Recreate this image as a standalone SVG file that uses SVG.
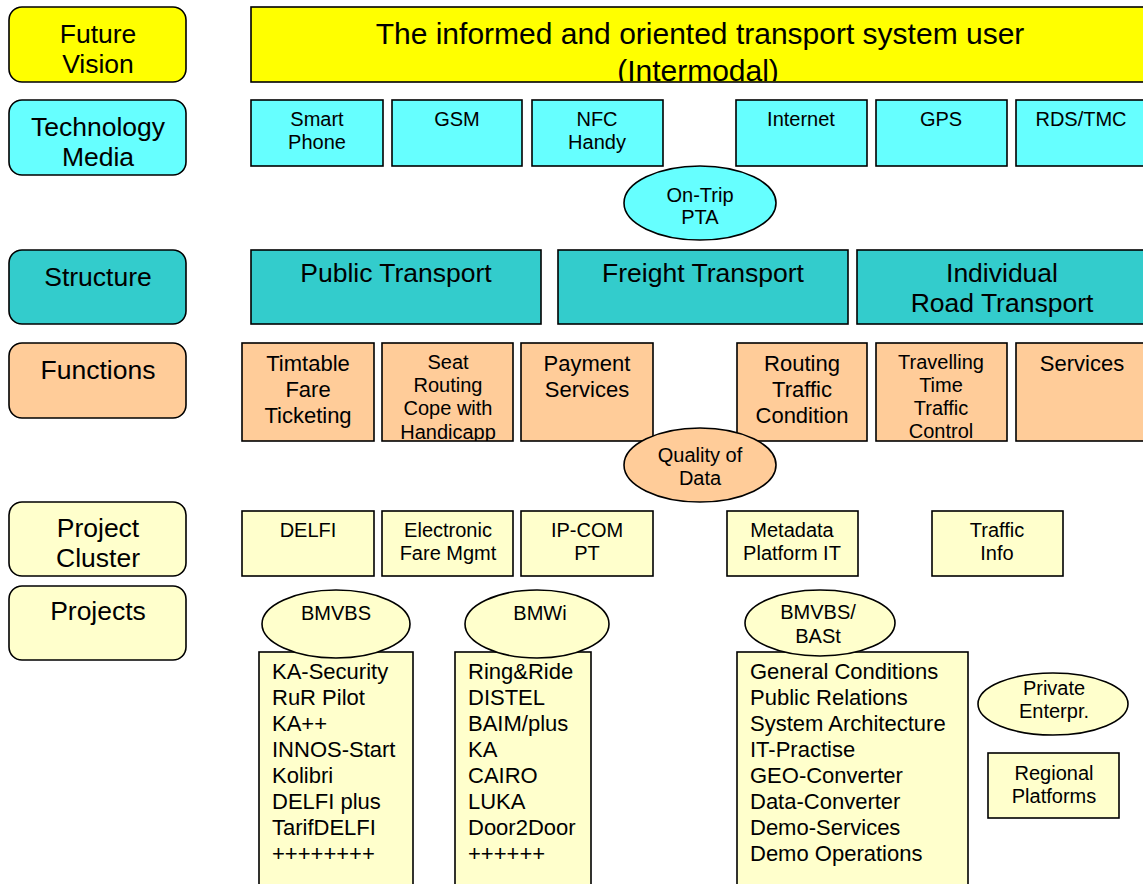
<svg xmlns="http://www.w3.org/2000/svg" width="1143" height="884" viewBox="0 0 1143 884">
<style>
text{font-family:"Liberation Sans",Arial,sans-serif;fill:#000;text-anchor:middle}
.b{stroke:#000;stroke-width:1.6}
.yel{fill:#FFFF00}.cy{fill:#66FFFF}.tl{fill:#33CCCC}.pe{fill:#FFCC99}.ly{fill:#FFFFCC}
.f26{font-size:26.5px}.f30{font-size:30px}.f20{font-size:20px}.f22{font-size:22px}
.l{text-anchor:start}
</style>
<defs>
<clipPath id="cVis"><rect x="251" y="7" width="900" height="74"/></clipPath>
<clipPath id="cSeat"><rect x="382" y="343" width="131" height="98"/></clipPath>
<clipPath id="cTrav"><rect x="876" y="343" width="131" height="98"/></clipPath>
</defs>
<rect width="1143" height="884" fill="#fff"/>

<g id="lbl-future"><rect class="b yel" x="9" y="7" width="177" height="75" rx="13"/><text class="f26" x="98" y="42.5">Future</text><text class="f26" x="98" y="72.5">Vision</text></g>
<g id="lbl-tech"><rect class="b cy" x="9" y="100" width="177" height="75" rx="13"/><text class="f26" x="98" y="136">Technology</text><text class="f26" x="98" y="166">Media</text></g>
<g id="lbl-structure"><rect class="b tl" x="9" y="250" width="177" height="74" rx="13"/><text class="f26" x="98" y="286">Structure</text></g>
<g id="lbl-functions"><rect class="b pe" x="9" y="343" width="177" height="75" rx="13"/><text class="f26" x="98" y="379">Functions</text></g>
<g id="lbl-cluster"><rect class="b ly" x="9" y="502" width="177" height="74" rx="13"/><text class="f26" x="98" y="537">Project</text><text class="f26" x="98" y="567">Cluster</text></g>
<g id="lbl-projects"><rect class="b ly" x="9" y="586" width="177" height="74" rx="13"/><text class="f26" x="98" y="620">Projects</text></g>

<g id="vision"><rect class="b yel" x="251" y="7" width="900" height="75"/>
<g clip-path="url(#cVis)"><text class="f30" x="700" y="43.5">The informed and oriented transport system user</text><text class="f30" x="698" y="81">(Intermodal)</text></g></g>

<g id="t-smart"><rect class="b cy" x="251" y="100" width="132" height="66"/><text class="f20" x="317" y="126">Smart</text><text class="f20" x="317" y="149">Phone</text></g>
<g id="t-gsm"><rect class="b cy" x="392" y="100" width="130" height="66"/><text class="f20" x="457" y="126">GSM</text></g>
<g id="t-nfc"><rect class="b cy" x="532" y="100" width="131" height="66"/><text class="f20" x="597" y="126">NFC</text><text class="f20" x="597" y="149">Handy</text></g>
<g id="t-internet"><rect class="b cy" x="736" y="100" width="131" height="66"/><text class="f20" x="801" y="126">Internet</text></g>
<g id="t-gps"><rect class="b cy" x="876" y="100" width="131" height="66"/><text class="f20" x="941" y="126">GPS</text></g>
<g id="t-rds"><rect class="b cy" x="1016" y="100" width="140" height="66"/><text class="f20" x="1081" y="126">RDS/TMC</text></g>
<g id="ontrip"><ellipse class="b cy" cx="700" cy="203" rx="76" ry="37"/><text class="f20" x="700" y="202">On-Trip</text><text class="f20" x="700" y="224">PTA</text></g>

<g id="s-public"><rect class="b tl" x="251" y="250" width="290" height="74"/><text class="f26" x="396" y="282">Public Transport</text></g>
<g id="s-freight"><rect class="b tl" x="558" y="250" width="290" height="74"/><text class="f26" x="703" y="282">Freight Transport</text></g>
<g id="s-individual"><rect class="b tl" x="857" y="250" width="300" height="74"/><text class="f26" x="1002" y="282">Individual</text><text class="f26" x="1002" y="312">Road Transport</text></g>

<g id="f-timtable"><rect class="b pe" x="242" y="343" width="132" height="98"/><text class="f22" x="308" y="371">Timtable</text><text class="f22" x="308" y="397">Fare</text><text class="f22" x="308" y="423">Ticketing</text></g>
<g id="f-seat"><rect class="b pe" x="382" y="343" width="131" height="98"/><g clip-path="url(#cSeat)"><text class="f20" x="448" y="369">Seat</text><text class="f20" x="448" y="392">Routing</text><text class="f20" x="448" y="415">Cope with</text><text class="f20" x="448" y="439">Handicapp</text></g></g>
<g id="f-payment"><rect class="b pe" x="521" y="343" width="132" height="98"/><text class="f22" x="587" y="371">Payment</text><text class="f22" x="587" y="397">Services</text></g>
<g id="f-routing"><rect class="b pe" x="737" y="343" width="130" height="98"/><text class="f22" x="802" y="371">Routing</text><text class="f22" x="802" y="397">Traffic</text><text class="f22" x="802" y="423">Condition</text></g>
<g id="f-travel"><rect class="b pe" x="876" y="343" width="131" height="98"/><g clip-path="url(#cTrav)"><text class="f20" x="941" y="369">Travelling</text><text class="f20" x="941" y="392">Time</text><text class="f20" x="941" y="415">Traffic</text><text class="f20" x="941" y="438">Control</text></g></g>
<g id="f-services"><rect class="b pe" x="1016" y="343" width="140" height="98"/><text class="f22" x="1082" y="371">Services</text></g>
<g id="quality"><ellipse class="b pe" cx="700" cy="465" rx="76" ry="37"/><text class="f20" x="700" y="462">Quality of</text><text class="f20" x="700" y="485">Data</text></g>

<g id="c-delfi"><rect class="b ly" x="242" y="511" width="132" height="65"/><text class="f20" x="308" y="537">DELFI</text></g>
<g id="c-efm"><rect class="b ly" x="382" y="511" width="131" height="65"/><text class="f20" x="448" y="537">Electronic</text><text class="f20" x="448" y="560">Fare Mgmt</text></g>
<g id="c-ipcom"><rect class="b ly" x="521" y="511" width="132" height="65"/><text class="f20" x="587" y="537">IP-COM</text><text class="f20" x="587" y="560">PT</text></g>
<g id="c-meta"><rect class="b ly" x="727" y="511" width="131" height="65"/><text class="f20" x="792" y="537">Metadata</text><text class="f20" x="792" y="560">Platform IT</text></g>
<g id="c-traffic"><rect class="b ly" x="932" y="511" width="131" height="65"/><text class="f20" x="997" y="537">Traffic</text><text class="f20" x="997" y="560">Info</text></g>

<g id="p-bmvbs-list"><rect class="b ly" x="259" y="652" width="154" height="250"/>
<text class="f22 l" x="272" y="679">KA-Security</text><text class="f22 l" x="272" y="705">RuR Pilot</text><text class="f22 l" x="272" y="731">KA++</text><text class="f22 l" x="272" y="757">INNOS-Start</text><text class="f22 l" x="272" y="783">Kolibri</text><text class="f22 l" x="272" y="809">DELFI plus</text><text class="f22 l" x="272" y="835">TarifDELFI</text><text class="f22 l" x="272" y="861">++++++++</text></g>
<g id="p-bmvbs"><ellipse class="b ly" cx="336" cy="624" rx="74" ry="34"/><text class="f20" x="336" y="620">BMVBS</text></g>

<g id="p-bmwi-list"><rect class="b ly" x="455" y="652" width="136" height="250"/>
<text class="f22 l" x="468" y="679">Ring&amp;Ride</text><text class="f22 l" x="468" y="705">DISTEL</text><text class="f22 l" x="468" y="731">BAIM/plus</text><text class="f22 l" x="468" y="757">KA</text><text class="f22 l" x="468" y="783">CAIRO</text><text class="f22 l" x="468" y="809">LUKA</text><text class="f22 l" x="468" y="835">Door2Door</text><text class="f22 l" x="468" y="861">++++++</text></g>
<g id="p-bmwi"><ellipse class="b ly" cx="537" cy="624" rx="72" ry="34"/><text class="f20" x="540" y="620">BMWi</text></g>

<g id="p-bast-list"><rect class="b ly" x="737" y="652" width="231" height="250"/>
<text class="f22 l" x="750" y="679">General Conditions</text><text class="f22 l" x="750" y="705">Public Relations</text><text class="f22 l" x="750" y="731">System Architecture</text><text class="f22 l" x="750" y="757">IT-Practise</text><text class="f22 l" x="750" y="783">GEO-Converter</text><text class="f22 l" x="750" y="809">Data-Converter</text><text class="f22 l" x="750" y="835">Demo-Services</text><text class="f22 l" x="750" y="861">Demo Operations</text></g>
<g id="p-bast"><ellipse class="b ly" cx="820" cy="623" rx="75" ry="33"/><text class="f20" x="818" y="619">BMVBS/</text><text class="f20" x="818" y="643">BASt</text></g>

<g id="p-private"><ellipse class="b ly" cx="1053" cy="704" rx="75" ry="31"/><text class="f20" x="1054" y="695">Private</text><text class="f20" x="1054" y="718">Enterpr.</text></g>
<g id="p-regional"><rect class="b ly" x="988" y="753" width="131" height="65"/><text class="f20" x="1054" y="780">Regional</text><text class="f20" x="1054" y="803">Platforms</text></g>

<g id="connectors"/>
</svg>
